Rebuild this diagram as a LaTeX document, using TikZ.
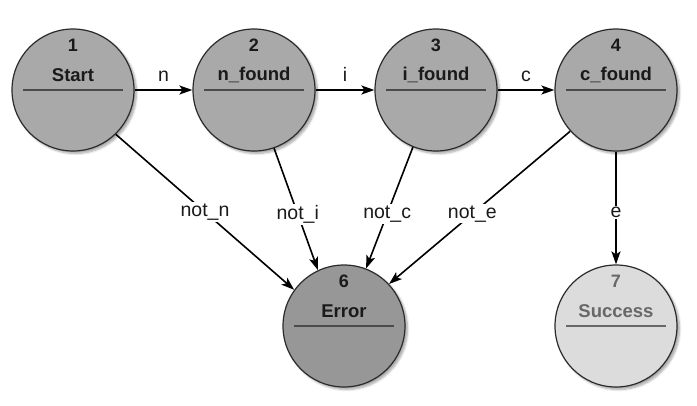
\documentclass[tikz,border=0pt]{standalone}
\usepackage{fontspec}
\setmainfont{Liberation Sans}
\usetikzlibrary{arrows.meta,shadows.blur}
\definecolor{stategray}{HTML}{A9A9A9}
\definecolor{errgray}{HTML}{979797}
\definecolor{succgray}{HTML}{DCDCDC}
\definecolor{rimcol}{HTML}{2B2B2B}
\definecolor{succtext}{HTML}{686868}
\definecolor{txt}{HTML}{1A1A1A}
\tikzset{
  state/.style={circle, draw=rimcol, line width=1.2pt, fill=stategray, minimum size=122pt, inner sep=0pt,
    blur shadow={shadow xshift=2.5pt, shadow yshift=-2.5pt, shadow blur steps=6, shadow opacity=35}},
  numtxt/.style={font=\fontsize{18}{20}\selectfont\bfseries, text=txt, inner sep=0pt},
  nametxt/.style={font=\fontsize{18.5}{20}\selectfont\bfseries, text=txt, inner sep=0pt},
  divider/.style={draw=rimcol!85, line width=1.2pt},
  edge/.style={draw=black, line width=1.6pt, -{Stealth[length=13pt,width=9pt,inset=3pt]}},
  elabel/.style={font=\fontsize{19.5}{21}\selectfont, text=txt, fill=white, inner sep=1.5pt},
  tlabel/.style={font=\fontsize{19.5}{21}\selectfont, text=txt, inner sep=0pt}
}
\begin{document}
\begin{tikzpicture}[x=1pt,y=-1pt]
\useasboundingbox (0,0) rectangle (697,405);
% states
\node[state] (s1) at (73,90) {};
\node[state] (s2) at (254,90) {};
\node[state] (s3) at (436,90) {};
\node[state] (s4) at (616,90) {};
\node[state, fill=errgray] (s6) at (344,326) {};
\node[state, fill=succgray] (s7) at (616,326) {};
% texts and dividers
\foreach \s/\n/\t in {s1/1/Start, s2/2/n\_found, s3/3/i\_found, s4/4/c\_found, s6/6/Error}{
  \node[numtxt] (\s num) at ([yshift=45pt]\s.center) {\n};
  \node[nametxt] (\s name) at ([yshift=15pt]\s.center) {\t};
  \draw[divider] ([xshift=-50pt]\s.center) -- ([xshift=50pt]\s.center);
}
\node[numtxt, text=succtext] (s7num) at ([yshift=45pt]s7.center) {7};
\node[nametxt, text=succtext] (s7name) at ([yshift=15pt]s7.center) {Success};
\draw[divider, draw=succtext] ([xshift=-50pt]s7.center) -- ([xshift=50pt]s7.center);
% horizontal transitions
\draw[edge] (s1) -- node[tlabel, above=8pt] (ln) {n} (s2);
\draw[edge] (s2) -- node[tlabel, above=8pt] (li) {i} (s3);
\draw[edge] (s3) -- node[tlabel, above=8pt] (lc) {c} (s4);
% to error
\draw[edge] (s1.314.4) -- node[elabel, pos=0.5] (lnn) {not\_n} (s6.144.8);
\draw[edge] (s2.-71.9) -- node[elabel, pos=0.54] (lni) {not\_i} (s6.115);
\draw[edge] (s3.248.4) -- node[elabel, pos=0.55] (lnc) {not\_c} (s6.69.5);
\draw[edge] (s4.222.3) -- node[elabel, pos=0.54] (lne) {not\_e} (s6.43.7);
% to success
\draw[edge] (s4) -- node[elabel, pos=0.54] (le) {e} (s7);
\end{tikzpicture}
\end{document}
